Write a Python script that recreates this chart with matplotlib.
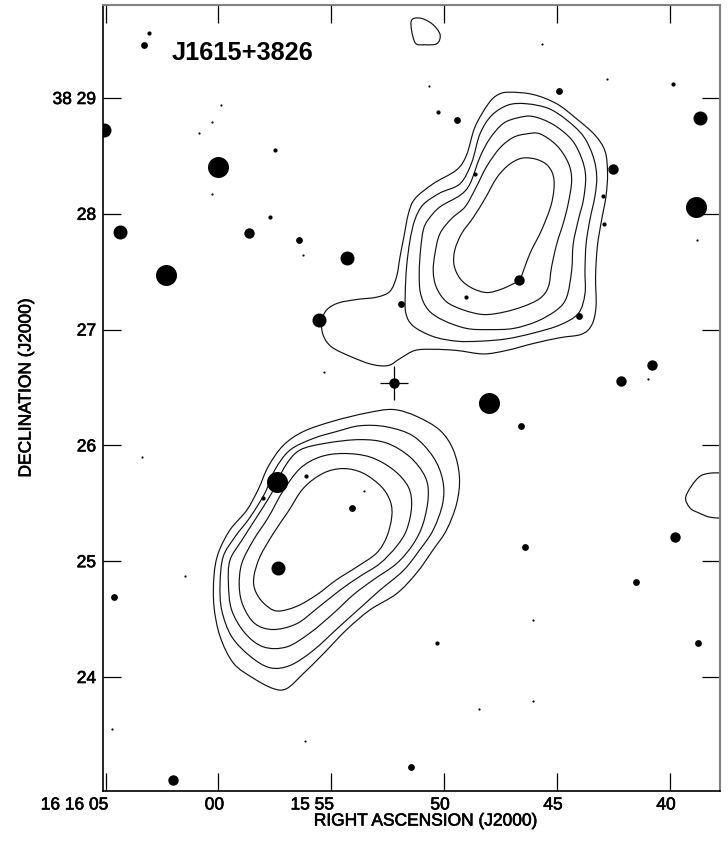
import numpy as np
import matplotlib.pyplot as plt
import matplotlib.patheffects as pe
from matplotlib.path import Path
from matplotlib.patches import PathPatch
from matplotlib.transforms import ScaledTranslation

plt.rcParams['font.family'] = ['Liberation Sans', 'DejaVu Sans']

# RA = seconds after 16 15 00, Dec = arcmin after 38 00
north_1_ra = [47.09, 46.06, 45.02, 44.14, 43.33, 42.88, 42.77, 42.84, 43.03, 43.22, 43.30, 43.28, 43.47, 43.92, 44.88,
              46.06, 47.24, 48.27, 49.45, 50.49, 51.30, 51.96, 52.48, 53.22, 54.18, 54.99, 55.36, 55.43, 55.21, 54.69,
              53.88, 53.00, 52.41, 52.11, 51.96, 51.79, 51.59, 51.30, 50.49, 49.45, 49.01, 48.64, 48.05, 47.61]
north_1_dec = [29.05, 29.03, 28.95, 28.82, 28.68, 28.54, 28.35, 28.15, 27.95, 27.72, 27.46, 27.20, 27.04, 26.96, 26.93,
               26.88, 26.82, 26.79, 26.82, 26.83, 26.82, 26.75, 26.69, 26.70, 26.77, 26.85, 26.95, 27.07, 27.17, 27.23,
               27.26, 27.28, 27.33, 27.46, 27.63, 27.80, 28.00, 28.13, 28.26, 28.38, 28.51, 28.75, 28.95, 29.03]
north_2_ra = [46.35, 45.39, 44.58, 43.84, 43.40, 43.25, 43.33, 43.55, 43.72, 43.77, 43.77, 44.06, 44.88, 46.06, 47.24,
              48.42, 49.45, 50.49, 51.37, 51.70, 51.73, 51.67, 51.52, 51.30, 50.93, 50.19, 49.30, 48.79, 48.42, 47.90, 47.16]
north_2_dec = [28.95, 28.91, 28.81, 28.67, 28.49, 28.32, 28.15, 27.95, 27.74, 27.51, 27.31, 27.14, 27.04, 26.97, 26.92,
               26.90, 26.90, 26.94, 27.03, 27.14, 27.31, 27.54, 27.77, 27.95, 28.08, 28.18, 28.26, 28.44, 28.69, 28.85, 28.94]
north_3_ra = [46.06, 45.17, 44.36, 43.92, 43.74, 43.84, 44.06, 44.29, 44.36, 44.58, 45.02, 45.91, 46.94, 47.98, 49.01,
              50.04, 50.71, 51.05, 51.11, 51.05, 50.93, 50.71, 50.19, 49.30, 48.86, 48.42, 47.98, 47.39, 46.72]
north_3_dec = [28.84, 28.77, 28.64, 28.48, 28.32, 28.12, 27.95, 27.74, 27.51, 27.28, 27.17, 27.07, 27.01, 27.00, 27.01,
               27.08, 27.17, 27.31, 27.49, 27.69, 27.86, 27.95, 28.06, 28.16, 28.26, 28.49, 28.65, 28.78, 28.83]
north_4_ra = [45.76, 45.02, 44.51, 44.36, 44.51, 44.73, 45.02, 45.25, 45.39, 45.76, 46.50, 47.39, 48.27, 49.16, 49.90,
              50.34, 50.49, 50.41, 50.19, 49.67, 49.08, 48.64, 48.12, 47.53, 46.94, 46.35]
north_4_dec = [28.69, 28.59, 28.44, 28.29, 28.09, 27.92, 27.74, 27.54, 27.37, 27.27, 27.20, 27.15, 27.13, 27.17, 27.24,
               27.36, 27.50, 27.66, 27.83, 27.96, 28.06, 28.21, 28.41, 28.57, 28.66, 28.69]
north_5_ra = [46.65, 46.20, 45.69, 45.25, 45.14, 45.39, 45.91, 46.57, 47.16, 47.68, 48.20, 48.71, 49.23, 49.53, 49.57,
              49.30, 48.79, 48.12, 47.46, 46.80]
north_5_dec = [27.43, 27.66, 27.86, 28.09, 28.29, 28.41, 28.47, 28.48, 28.42, 28.31, 28.13, 27.97, 27.83, 27.69, 27.56,
               27.44, 27.36, 27.32, 27.35, 27.41]

south_1_ra = [52.26, 51.22, 50.19, 49.60, 49.33, 49.45, 49.90, 50.49, 51.22, 52.11, 53.29, 54.32, 55.36, 56.24, 56.98,
              57.57, 58.46, 59.34, 59.93, 60.20, 60.20, 60.01, 59.49, 58.75, 58.24, 57.79, 57.13, 56.24, 54.91, 53.44]
south_1_dec = [26.31, 26.25, 26.13, 25.96, 25.73, 25.50, 25.27, 25.10, 24.90, 24.72, 24.58, 24.41, 24.20, 24.03, 23.90,
               23.90, 23.99, 24.12, 24.35, 24.61, 24.87, 25.07, 25.27, 25.44, 25.62, 25.82, 26.00, 26.12, 26.21, 26.28]
south_2_ra = [53.73, 52.55, 51.37, 50.49, 50.07, 50.07, 50.49, 51.08, 51.81, 52.85, 53.59, 54.62, 55.80, 56.83, 57.72,
              58.60, 59.42, 59.86, 59.93, 59.79, 59.27, 58.60, 57.94, 57.50, 56.83, 55.80, 54.77]
south_2_dec = [26.17, 26.16, 26.08, 25.90, 25.70, 25.50, 25.27, 25.10, 24.92, 24.75, 24.62, 24.44, 24.23, 24.10, 24.08,
               24.18, 24.35, 24.58, 24.81, 25.04, 25.21, 25.38, 25.59, 25.79, 25.96, 26.06, 26.12]
south_3_ra = [53.73, 52.55, 51.52, 50.85, 50.71, 50.93, 51.37, 52.11, 53.14, 54.03, 54.91, 55.95, 56.98, 58.01, 58.83,
              59.42, 59.56, 59.49, 58.97, 58.31, 57.64, 57.05, 56.39, 55.21]
south_3_dec = [26.05, 26.02, 25.90, 25.73, 25.56, 25.33, 25.15, 24.98, 24.84, 24.71, 24.55, 24.38, 24.26, 24.26, 24.38,
               24.58, 24.81, 25.01, 25.18, 25.38, 25.59, 25.82, 25.96, 26.02]
south_4_ra = [54.47, 53.29, 52.26, 51.59, 51.45, 51.67, 52.11, 52.85, 53.73, 54.62, 55.65, 56.54, 57.57, 58.38, 58.90,
              59.08, 58.97, 58.46, 57.79, 57.13, 56.39, 55.51]
south_4_dec = [25.93, 25.90, 25.79, 25.64, 25.47, 25.27, 25.13, 24.98, 24.87, 24.75, 24.59, 24.46, 24.41, 24.46, 24.61,
               24.78, 24.98, 25.18, 25.38, 25.61, 25.80, 25.90]
south_5_ra = [54.47, 53.59, 52.77, 52.38, 52.33, 52.55, 53.00, 53.88, 54.77, 55.65, 56.54, 57.42, 58.01, 58.38, 58.43,
              58.16, 57.57, 56.91, 56.24, 55.36]
south_5_dec = [25.80, 25.76, 25.64, 25.51, 25.38, 25.21, 25.07, 24.95, 24.84, 24.71, 24.61, 24.57, 24.64, 24.75, 24.87,
               25.04, 25.24, 25.43, 25.63, 25.76]

top_ra = [51.47, 51.08, 50.54, 50.19, 50.32, 50.86, 51.30]
top_dec = [29.66, 29.69, 29.64, 29.55, 29.47, 29.46, 29.48]
edge_ra = [37.5, 38.23, 38.76, 39.30, 39.12, 38.76, 38.23, 37.5]
edge_dec = [25.76, 25.76, 25.72, 25.56, 25.46, 25.42, 25.38, 25.37]

# optical sources, grouped by how big they look
xl_ra = [60.02, 62.33, 38.85, 57.41, 48.02]
xl_dec = [28.40, 27.47, 28.06, 25.68, 26.37]
l_ra = [65.07, 54.31, 55.55, 38.68, 57.36, 64.36]
l_dec = [28.72, 27.62, 27.08, 28.83, 24.94, 27.84]
m_ra = [46.69, 42.53, 58.65, 42.17, 40.80, 39.78, 62.02, 52.23]
m_dec = [27.43, 28.39, 27.83, 26.56, 26.69, 25.21, 23.11, 26.54]
s_ra = [56.44, 63.30, 51.92, 44.03, 49.44, 44.92, 46.60, 54.09, 46.43, 41.51, 64.63, 38.76, 51.47]
s_dec = [27.77, 29.46, 27.22, 27.12, 28.81, 29.06, 26.17, 25.46, 25.12, 24.82, 24.69, 24.29, 23.22]
xs_ra = [57.50, 57.72, 63.08, 50.32, 48.64, 49.04, 42.97, 42.93, 50.28, 39.87, 58.03, 56.12]
xs_dec = [28.55, 27.97, 29.56, 24.29, 28.34, 27.28, 28.15, 27.91, 28.88, 29.12, 25.55, 25.74]
dot_ra = [59.89, 60.29, 60.86, 60.29, 56.26, 55.33, 42.80, 38.81, 45.67, 50.68, 63.39, 53.56, 61.48, 40.98, 46.07,
          48.46, 46.07, 56.17, 64.72]
dot_dec = [28.94, 28.79, 28.70, 28.17, 27.64, 26.63, 29.16, 27.77, 29.47, 29.10, 25.90, 25.61, 24.87, 26.57, 24.49,
           23.72, 23.79, 23.45, 23.55]

cross_ra = [52.23]
cross_dec = [26.54]

ra_ticks = [65, 60, 55, 50, 45, 40]
ra_labels = ['16 16 05', '00', '15 55', '50', '45', '40']
dec_ticks = [29, 28, 27, 26, 25, 24]
dec_labels = ['38 29', '28', '27', '26', '25', '24']


def smooth_path(ra, dec, closed=True):
    # bezier curve through the read points, handles from the neighbours
    p = np.column_stack([ra, dec])
    n = len(p)
    if closed:
        before = np.roll(p, 1, axis=0)
        after = np.roll(p, -1, axis=0)
        stops = range(n)
    else:
        before = np.vstack([p[0], p[:-1]])
        after = np.vstack([p[1:], p[-1]])
        stops = range(n - 1)
    tangent = (after - before) / 6
    verts = [p[0]]
    codes = [Path.MOVETO]
    for i in stops:
        j = (i + 1) % n
        verts += [p[i] + tangent[i], p[j] - tangent[j], p[j]]
        codes += [Path.CURVE4, Path.CURVE4, Path.CURVE4]
    return Path(verts, codes)


fig = plt.figure(figsize=(7.28, 8.52), dpi=100)
ax = fig.add_axes([103 / 728, 1 - 790.5 / 852, 617 / 728, 785.5 / 852])
ax.set_xlim(65.115, 37.79)
ax.set_ylim(23.02, 29.803)

contours = [(north_1_ra, north_1_dec), (north_2_ra, north_2_dec), (north_3_ra, north_3_dec),
            (north_4_ra, north_4_dec), (north_5_ra, north_5_dec),
            (south_1_ra, south_1_dec), (south_2_ra, south_2_dec), (south_3_ra, south_3_dec),
            (south_4_ra, south_4_dec), (south_5_ra, south_5_dec), (top_ra, top_dec)]
for ra, dec in contours:
    ax.add_patch(PathPatch(smooth_path(ra, dec), fc='none', ec='#111111', lw=0.85))
ax.add_patch(PathPatch(smooth_path(edge_ra, edge_dec, closed=False), fc='none', ec='#111111', lw=0.85))

# marker size in points, radius in pixels * 2 * 0.72
for ra, dec, r in [(xl_ra, xl_dec, 10.5), (l_ra, l_dec, 7), (m_ra, m_dec, 5.2), (s_ra, s_dec, 3.4),
                   (xs_ra, xs_dec, 2.1), (dot_ra, dot_dec, 1.1)]:
    ax.plot(ra, dec, 'o', color='black', ms=2 * r * 0.72, mew=0)

ax.errorbar(cross_ra, cross_dec, xerr=0.63, yerr=0.147, fmt='none', ecolor='black', elinewidth=0.9)

# the old plot package printed heavy letters, a thin stroke gets close to it
heavy = [pe.withStroke(linewidth=0.45, foreground='black')]

ax.set_xticks(ra_ticks)
ax.set_xticklabels(ra_labels, ha='right')
ax.set_yticks(dec_ticks)
ax.set_yticklabels(dec_labels)
ax.tick_params(axis='both', direction='in', length=13, width=0.9, top=True, right=True, labelsize=12.5, color='black')
ax.tick_params(axis='x', pad=5)
ax.tick_params(axis='y', pad=5)
for lab in ax.get_xticklabels():
    shift = 3 if ' ' in lab.get_text() else 5.5
    lab.set_transform(lab.get_transform() + ScaledTranslation(shift / 100, 0, fig.dpi_scale_trans))
    lab.set_path_effects(heavy)
for lab in ax.get_yticklabels():
    lab.set_path_effects(heavy)

ax.spines['left'].set_linewidth(1.2)
ax.spines['bottom'].set_linewidth(1.2)
ax.spines['top'].set_color('#808080')
ax.spines['right'].set_color('#808080')
ax.spines['top'].set_linewidth(1.5)
ax.spines['right'].set_linewidth(1.5)

fig.text(425.5 / 728, 1 - 821 / 852, 'RIGHT ASCENSION (J2000)', ha='center', va='center', fontsize=12.5, path_effects=heavy)
fig.text(26 / 728, 1 - 388 / 852, 'DECLINATION (J2000)', ha='center', va='center', rotation=90, fontsize=12.5, path_effects=heavy)
ax.text(62.06, 29.39, 'J1615+3826', ha='left', va='center', fontsize=18.3, fontweight='bold')

fig.savefig('out.png', dpi=100)
